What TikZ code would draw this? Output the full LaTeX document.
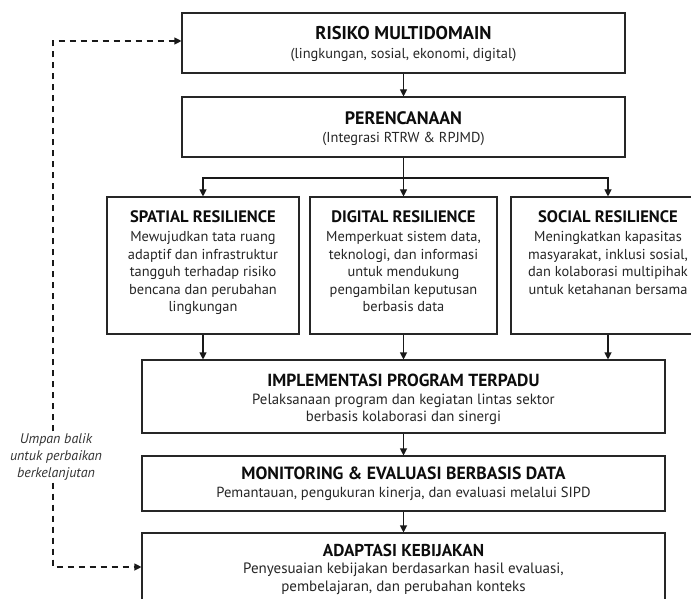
\documentclass[tikz,border=0pt]{standalone}
\usepackage{fontspec}
\setmainfont{PT Sans}
\usetikzlibrary{arrows.meta}
\newcommand\hdr[1]{\bfseries\fontsize{#1}{18}\selectfont\color{black!95}}
\begin{document}
\begin{tikzpicture}[x=1pt,y=-1pt,
  box/.style={draw=black!85, line width=1.1pt, fill=white, inner sep=0pt},
  txt/.style={align=center, text=black!85, font=\fontsize{#1}{17.5}\selectfont, inner sep=0pt},
  txt/.default=14.4,
  arr/.style={-{Triangle[length=7pt,width=7pt]}, line width=1.1pt, draw=black!90},
  fb/.style={-{Triangle[length=7pt,width=7pt]}, line width=1.1pt, draw=black!90, dash pattern=on 6pt off 5pt},
  fbt/.style={align=center, text=black!80, font=\itshape\fontsize{14}{17}\selectfont, inner sep=2pt}]
\useasboundingbox (0,0) rectangle (691,599);
\clip (0,0) rectangle (691,599);
\fill[white] (0,0) rectangle (691,599);
% boxes
\node[box, minimum width=443, minimum height=60] (risk) at (403.5,43) {};
\node[box, minimum width=443, minimum height=60] (per) at (403.5,127) {};
\node[box, minimum width=192, minimum height=137] (spat) at (203,265.5) {};
\node[box, minimum width=187, minimum height=137] (digi) at (403.5,265.5) {};
\node[box, minimum width=194, minimum height=137] (soc) at (608,265.5) {};
\node[box, minimum width=523, minimum height=73] (impl) at (403.5,396.5) {};
\node[box, minimum width=523, minimum height=55] (mon) at (403.5,483.5) {};
\node[box, minimum width=523, minimum height=72] (adapt) at (403.5,569) {};
% texts
\node[txt] (trisk) at (403.5,44) {{\hdr{18.5} RISIKO MULTIDOMAIN}\\[1pt](lingkungan, sosial, ekonomi, digital)};
\node[txt] (tper) at (403.5,128.5) {{\hdr{18} PERENCANAAN}\\[1pt](Integrasi RTRW \& RPJMD)};
\node[txt, anchor=north] (tspat) at (203,210) {{\hdr{16.6} SPATIAL RESILIENCE}\\[2pt]Mewujudkan tata ruang\\adaptif dan infrastruktur\\tangguh terhadap risiko\\bencana dan perubahan\\lingkungan};
\node[txt, anchor=north] (tdigi) at (403.5,210) {{\hdr{16.6} DIGITAL RESILIENCE}\\[2pt]Memperkuat sistem data,\\teknologi, dan informasi\\untuk mendukung\\pengambilan keputusan\\berbasis data};
\node[txt, anchor=north] (tsoc) at (608,210) {{\hdr{16.6} SOCIAL RESILIENCE}\\[2pt]Meningkatkan kapasitas\\masyarakat, inklusi sosial,\\dan kolaborasi multipihak\\untuk ketahanan bersama};
\node[txt=14.8] (timpl) at (403.5,399.5) {{\hdr{17.5} IMPLEMENTASI PROGRAM TERPADU}\\Pelaksanaan program dan kegiatan lintas sektor\\berbasis kolaborasi dan sinergi};
\node[txt=14.6] (tmon) at (403.5,483.5) {{\hdr{17.7} MONITORING \& EVALUASI BERBASIS DATA}\\Pemantauan, pengukuran kinerja, dan evaluasi melalui SIPD};
\node[txt=15] (tadapt) at (403.5,569) {{\hdr{17.2} ADAPTASI KEBIJAKAN}\\Penyesuaian kebijakan berdasarkan hasil evaluasi,\\pembelajaran, dan perubahan konteks};
% connectors
\draw[arr] (risk.south) -- (per.north);
\coordinate (jn) at (403.5,178);
\draw[line width=1.1pt, draw=black!90] (per.south) -- (jn);
\draw[arr] (jn) -| (spat.north);
\draw[arr] (jn) -| (soc.north);
\draw[arr] (jn) -- (digi.north);
\draw[arr] (spat.south) -- (spat.south |- impl.north);
\draw[arr] (digi.south) -- (digi.south |- impl.north);
\draw[arr] (soc.south) -- (soc.south |- impl.north);
\draw[arr] (impl.south) -- (mon.north);
\draw[arr] (mon.south) -- (adapt.north);
% feedback
\node[fbt] (fbtxt) at (56,457) {Umpan balik\\untuk perbaikan\\berkelanjutan};
\coordinate (ctop) at (53,41);
\coordinate (cbot) at (53,567);
\draw[fb] (fbtxt.north -| ctop) -- (ctop) -- (ctop -| risk.west);
\draw[fb] (fbtxt.south -| cbot) -- (cbot) -- (cbot -| adapt.west);
\end{tikzpicture}
\end{document}
